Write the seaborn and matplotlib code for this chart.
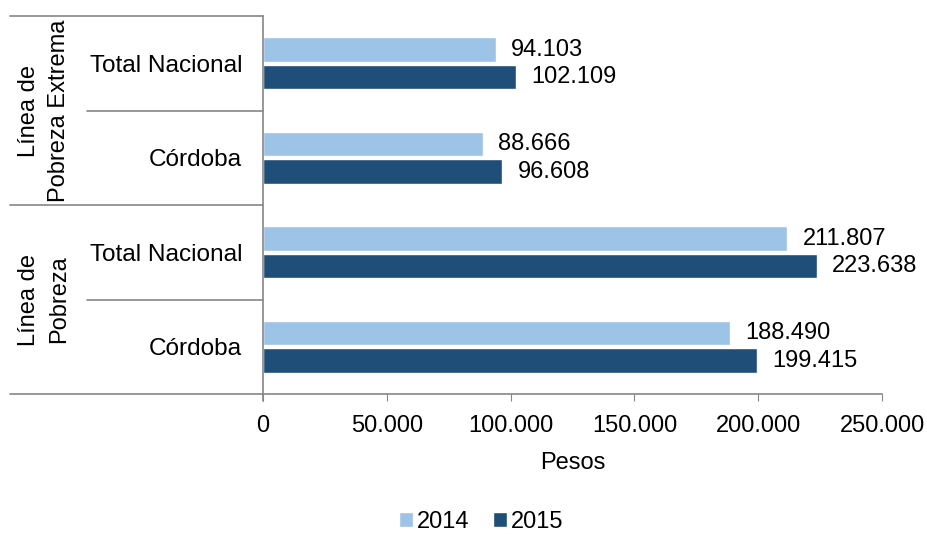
import pandas as pd
import matplotlib.pyplot as plt
import seaborn as sns

# Datos (pesos)
grupos = ['Línea de\nPobreza Extrema', 'Línea de\nPobreza Extrema', 'Línea de\nPobreza', 'Línea de\nPobreza']
regiones = ['Total Nacional', 'Córdoba', 'Total Nacional', 'Córdoba']
valores_2014 = [94103, 88666, 211807, 188490]
valores_2015 = [102109, 96608, 223638, 199415]
anios = ['2014', '2015']
colores = ['#9DC3E6', '#1F4E79']

claves = [f'{g}|{r}' for g, r in zip(grupos, regiones)]
df = pd.DataFrame({
    'clave': claves * 2,
    'anio': ['2014'] * 4 + ['2015'] * 4,
    'valor': valores_2014 + valores_2015,
})

sns.set_style('white')
plt.rcParams['font.family'] = ['Liberation Sans', 'DejaVu Sans']
plt.rcParams['text.color'] = 'black'
plt.rcParams['xtick.color'] = 'black'
plt.rcParams['ytick.color'] = 'black'
plt.rcParams['axes.labelcolor'] = 'black'
fs = 17

fig, ax = plt.subplots(figsize=(9.27, 5.34), dpi=100)
fig.subplots_adjust(left=0.2837, right=0.9515, top=0.970, bottom=0.262)

sns.barplot(data=df, y='clave', x='valor', hue='anio', order=claves, hue_order=anios,
            palette=colores, width=0.58, gap=0.1, orient='h', ax=ax, saturation=1)

def fmt(v):
    return f'{v:,.0f}'.replace(',', '.')

for cont in ax.containers:
    ax.bar_label(cont, labels=[fmt(b.get_width()) for b in cont], padding=11, fontsize=fs)

ax.set_xlim(0, 250000)
ax.set_ylim(3.5, -0.5)
ax.set_xticks([0, 50000, 100000, 150000, 200000, 250000])
ax.set_xticklabels([fmt(t) for t in ax.get_xticks()], fontsize=fs)
ax.set_yticks(range(4))
ax.set_yticklabels(regiones, fontsize=17.6)
ax.tick_params(axis='y', length=0, pad=15)
ax.tick_params(axis='x', length=5, color='#868686', direction='out', bottom=True, pad=10)
ax.set_xlabel('Pesos', fontsize=fs, labelpad=11)
ax.set_ylabel('')

for s in ['top', 'right']:
    ax.spines[s].set_visible(False)
for s in ['left', 'bottom']:
    ax.spines[s].set_color('#868686')
    ax.spines[s].set_linewidth(1.2)

# Eje jerarquico a la izquierda
tr = ax.get_yaxis_transform()
for y in [-0.5, 1.5, 3.5]:
    ax.plot([-0.409, 0], [y, y], transform=tr, color='#868686', lw=1.2, clip_on=False)
for y in [0.5, 2.5]:
    ax.plot([-0.284, 0], [y, y], transform=tr, color='#868686', lw=1.2, clip_on=False)
ax.plot([0, 0], [3.5, 3.57], transform=tr, color='#868686', lw=1.2, clip_on=False)
for i in [0, 2]:
    ax.text(-0.354, i + 0.5, grupos[i], transform=tr, rotation=90, ha='center', va='center',
            multialignment='center', fontsize=fs, linespacing=1.45)

fig.legend(*ax.get_legend_handles_labels(), loc='center', bbox_to_anchor=(0.519, 0.022),
           ncol=2, frameon=False, fontsize=fs, handlelength=0.6, handleheight=0.6,
           handletextpad=0.15, columnspacing=1.0)
ax.get_legend().remove()

plt.savefig('out.png', dpi=100)
